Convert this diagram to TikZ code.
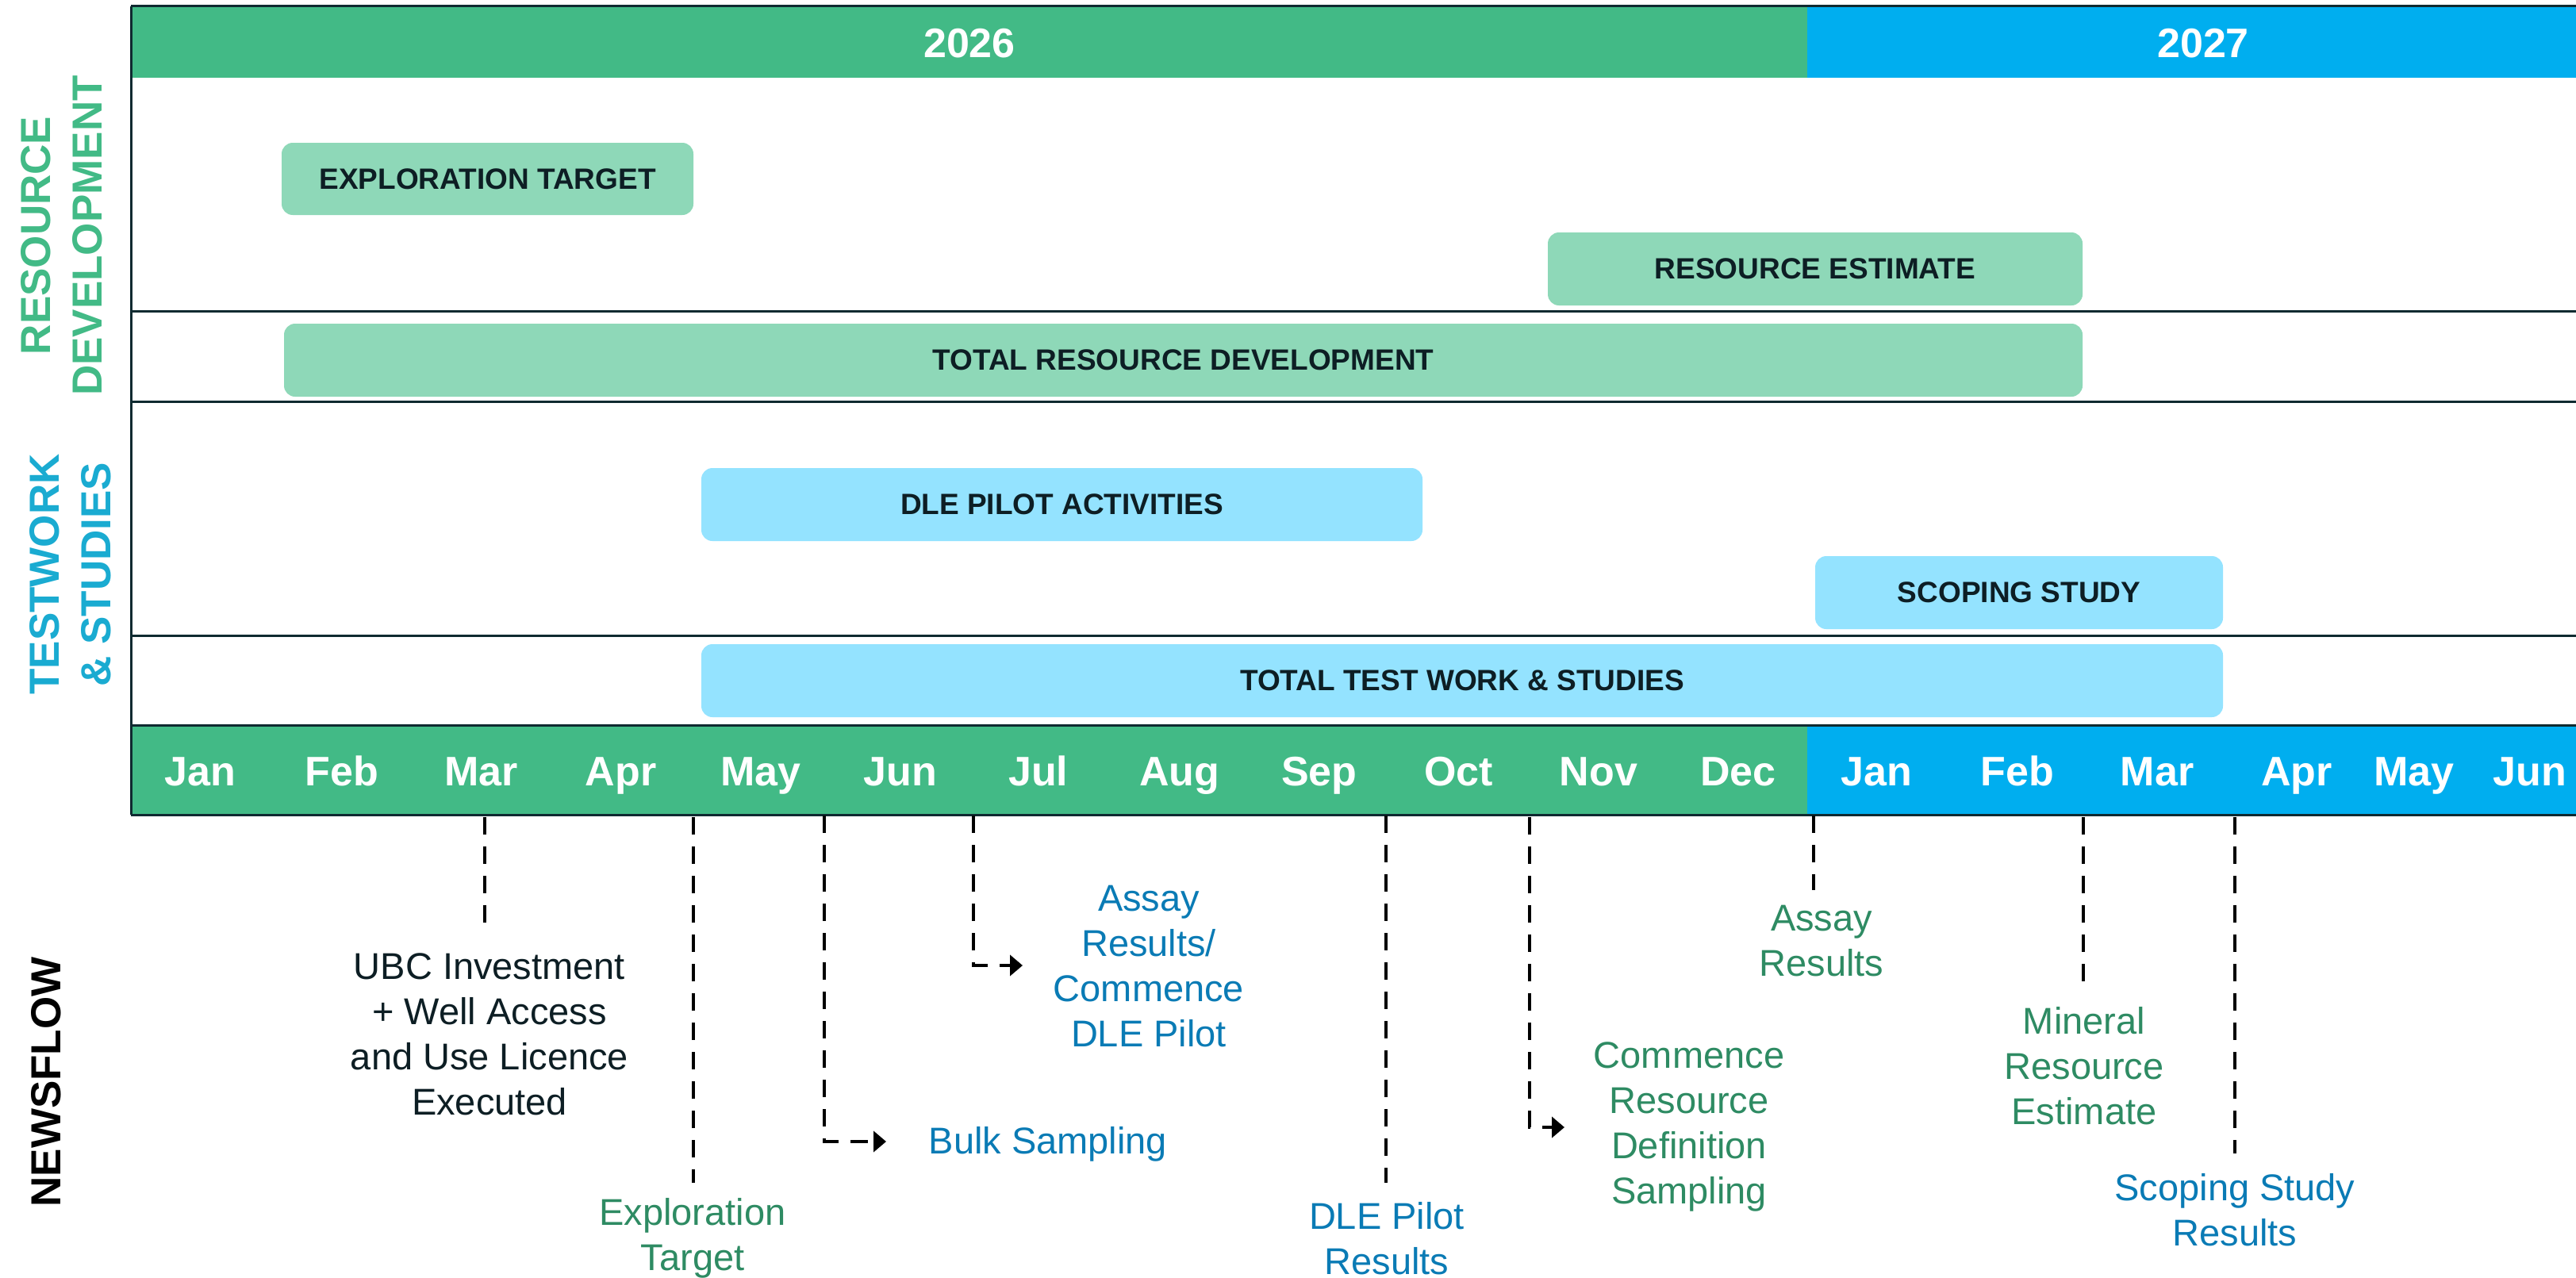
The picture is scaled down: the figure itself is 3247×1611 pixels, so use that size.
\documentclass[tikz,border=0pt]{standalone}
\usepackage{fontspec}
\setmainfont{Liberation Sans}
\usetikzlibrary{arrows.meta}
\definecolor{hgreen}{HTML}{42BA86}
\definecolor{hblue}{HTML}{00AEEF}
\definecolor{lgreen}{HTML}{8ED8B8}
\definecolor{lblue}{HTML}{94E3FF}
\definecolor{dtext}{HTML}{0D1E24}
\definecolor{tcyan}{HTML}{1AABD1}
\definecolor{ngreen}{HTML}{2E8B63}
\definecolor{nblue}{HTML}{0A7BB5}
\definecolor{rulec}{HTML}{0F2A30}
\begin{document}
\begin{tikzpicture}[x=1pt,y=-1pt,
  greenbar/.style={fill=lgreen, rounded corners=14pt, inner sep=0pt, font=\fontsize{37}{44}\selectfont\bfseries, text=dtext},
  bluebar/.style={greenbar, fill=lblue},
  month/.style={font=\fontsize{52}{60}\selectfont\bfseries, text=white, inner sep=0pt, anchor=base},
  side/.style={rotate=90, align=center, inner sep=0pt, font=\fontsize{53}{65}\selectfont\bfseries},
  news/.style={align=center, inner sep=0pt, font=\fontsize{47}{57}\selectfont},
  dashln/.style={line width=4.8pt, dash pattern=on 22pt off 15pt},
  arr/.style={dashln, -{Triangle[length=16pt,width=26pt]}},
  rulel/.style={line width=3pt, draw=rulec}
]
\fill[white] (0,0) rectangle (3247,1611);
\useasboundingbox (0,0) rectangle (3247,1611);

% header years
\fill[hgreen] (165,9) rectangle (2278,98);
\fill[hblue] (2278,9) rectangle (3247,98);
\node[month] (y26) at (1222,73) {2026};
\node[month] (y27) at (2777,73) {2027};

% month bar
\fill[hgreen] (165,914) rectangle (2278,1027);
\fill[hblue] (2278,914) rectangle (3247,1027);
\foreach \m/\x [count=\i] in {Jan/252.6,Feb/430.7,Mar/606.7,Apr/782.7,May/958.8,Jun/1134.8,Jul/1308.7,Aug/1486.8,Sep/1662.8,Oct/1838.8,Nov/2014.9,Dec/2190.9,Jan/2365,Feb/2543,Mar/2719,Apr/2895,May/3043,Jun/3189}
  \node[month] (mon\i) at (\x,990) {\m};

% rules
\draw[rulel] (165,8) -- (3247,8);
\draw[rulel] (165,8) -- (165,1027);
\draw[rulel] (165,392) -- (3247,392);
\draw[rulel] (165,506) -- (3247,506);
\draw[rulel] (165,801) -- (3247,801);
\draw[rulel] (165,914) -- (3247,914);
\draw[rulel] (165,1027) -- (3247,1027);

% side labels
\node[side, text=hgreen] (lres) at (77.5,297) {RESOURCE\\DEVELOPMENT};
\node[side, text=tcyan] (ltest) at (89,724) {TESTWORK\\\& STUDIES};
\node[side, text=black] (lnews) at (58,1364) {NEWSFLOW};

% bars
\node[greenbar, minimum width=519pt, minimum height=91pt] (expl) at (614.5,225.5) {EXPLORATION TARGET};
\node[greenbar, minimum width=674pt, minimum height=92pt] (rest) at (2288,339) {RESOURCE ESTIMATE};
\node[greenbar, minimum width=2267pt, minimum height=92pt] (totres) at (1491.5,454) {TOTAL RESOURCE DEVELOPMENT};
\node[bluebar, minimum width=909pt, minimum height=92pt] (dle) at (1338.5,636) {DLE PILOT ACTIVITIES};
\node[bluebar, minimum width=514pt, minimum height=92pt] (scop) at (2545,747) {SCOPING STUDY};
\node[bluebar, minimum width=1918pt, minimum height=92pt] (tottest) at (1843,858) {TOTAL TEST WORK \& STUDIES};

% newsflow texts
\node[news, text=dtext] (ubc) at (617,1304) {UBC Investment\\+ Well Access\\and Use Licence\\Executed};
\node[news, text=ngreen] (expt) at (873,1561) {Exploration\\Target};
\node[news, text=nblue] (bulk) at (1321,1442) {Bulk Sampling};
\node[news, text=nblue] (assay1) at (1448,1218) {Assay\\Results/\\Commence\\DLE Pilot};
\node[news, text=nblue] (dleres) at (1748,1561) {DLE Pilot\\Results};
\node[news, text=ngreen] (crds) at (2129,1420) {Commence\\Resource\\Definition\\Sampling};
\node[news, text=ngreen] (assay2) at (2296,1186) {Assay\\Results};
\node[news, text=ngreen] (mre) at (2627,1344) {Mineral\\Resource\\Estimate};
\node[news, text=nblue] (ssr) at (2817,1525) {Scoping Study\\Results};

% connectors
\coordinate (t1) at (611,1030);  \coordinate (e1) at (611,1169);
\coordinate (t2) at (874,1030);  \coordinate (e2) at (874,1491);
\coordinate (t3) at (1039,1028);
\coordinate (t4) at (1227,1028);
\coordinate (t5) at (1747,1028); \coordinate (e5) at (1747,1491);
\coordinate (t6) at (1928,1030);
\coordinate (t7) at (2286,1028); \coordinate (e7) at (2286,1122);
\coordinate (t8) at (2626,1030); \coordinate (e8) at (2626,1240);
\coordinate (t9) at (2817,1030); \coordinate (e9) at (2817,1454);
\coordinate (a3) at (1117,1439);
\coordinate (a4) at (1289,1217);
\coordinate (a6) at (1972,1421);

\draw[dashln] (t1) -- (e1);
\draw[dashln] (t2) -- (e2);
\draw[arr] (t3) |- (a3);
\draw[arr] (t4) |- (a4);
\draw[dashln] (t5) -- (e5);
\draw[arr] (t6) |- (a6);
\draw[dashln] (t7) -- (e7);
\draw[dashln] (t8) -- (e8);
\draw[dashln] (t9) -- (e9);
\end{tikzpicture}
\end{document}
